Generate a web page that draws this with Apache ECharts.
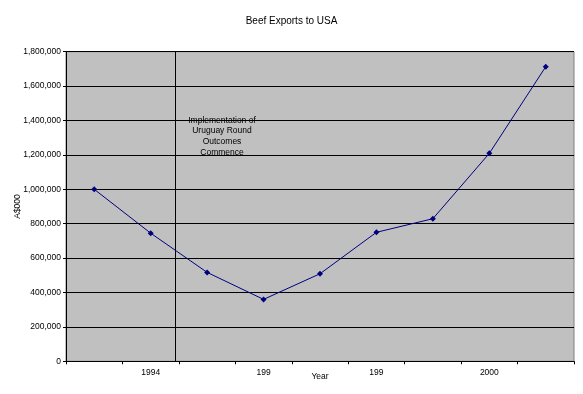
<!DOCTYPE html>
<html>
<head>
<meta charset="utf-8">
<script src="https://cdn.jsdelivr.net/npm/echarts@6/dist/echarts.min.js"></script>
<style>
html,body{margin:0;padding:0;background:#fff;}
#chart{width:583px;height:394px;}
</style>
</head>
<body>
<div id="chart"></div>
<script>
const years = ['1993','1994','1995','1996','1997','1998','1999','2000','2001'];
const tickLabels = ['', '1994', '', '199', '', '199', '', '2000', ''];
const exports = [1000000, 745000, 517000, 360000, 509000, 750000, 829000, 1209000, 1713000];
const yTicks = { min: 0, max: 1800000, interval: 200000 };
const eventPosition = 1.93; // category-boundary units (0..9)
const eventText = ['Implementation of', 'Uruguay Round', 'Outcomes', 'Commence'];

const FONT = '"Liberation Sans", Arial, sans-serif';
const chart = echarts.init(document.getElementById('chart'), null, {renderer: 'canvas'});
chart.setOption({
  animation: false,
  backgroundColor: '#ffffff',
  title: {
    text: 'Beef Exports to USA',
    left: 'center',
    top: 11,
    textStyle: {fontFamily: FONT, fontSize: 10, fontWeight: 'normal', color: '#000'}
  },
  grid: {left: 66, right: 9, top: 51.7, bottom: 32.7, containLabel: false, outerBoundsMode: 'none',
         show: true, backgroundColor: '#c0c0c0', borderColor: '#808080', borderWidth: 1},
  xAxis: [{
    type: 'category',
    data: years,
    boundaryGap: true,
    name: 'Year',
    nameLocation: 'middle',
    nameGap: 11,
    nameMoveOverlap: false,
    nameTextStyle: {fontFamily: FONT, fontSize: 8.5, color: '#000'},
    axisLine: {lineStyle: {color: '#000', width: 1}},
    axisTick: {show: true, length: 3, inside: false, alignWithLabel: false, interval: 0, lineStyle: {color: '#000'}},
    axisLabel: {interval: 0, fontFamily: FONT, fontSize: 8.5, color: '#000', margin: 7,
                formatter: (v, i) => tickLabels[i]},
    splitLine: {show: false}
  }, {
    type: 'value',
    min: 0, max: years.length,
    show: false
  }],
  yAxis: {
    type: 'value',
    min: yTicks.min, max: yTicks.max, interval: yTicks.interval,
    name: 'A$000',
    nameLocation: 'middle',
    nameGap: 44,
    nameRotate: 90,
    nameMoveOverlap: false,
    nameTextStyle: {fontFamily: FONT, fontSize: 8.5, color: '#000'},
    axisLine: {show: true, lineStyle: {color: '#000', width: 1}},
    axisTick: {show: true, length: 3, lineStyle: {color: '#000'}},
    axisLabel: {fontFamily: FONT, fontSize: 8.5, color: '#000', margin: 5,
                formatter: v => v.toLocaleString('en-US')},
    splitLine: {show: true, lineStyle: {color: '#000', width: 1}}
  },
  graphic: [{
    type: 'text',
    x: 222,
    y: 115,
    style: {
      text: eventText.join('\n'),
      align: 'center',
      verticalAlign: 'top',
      fontFamily: FONT, fontSize: 8.5, lineHeight: 10.7, fill: '#000'
    },
    z: 50
  }],
  series: [{
    type: 'line',
    data: exports,
    symbol: 'diamond',
    symbolSize: 6,
    itemStyle: {color: '#000080'},
    lineStyle: {color: '#000080', width: 1},
    z: 10
  }, {
    type: 'line',
    xAxisIndex: 1,
    data: [],
    symbol: 'none',
    markLine: {
      silent: true,
      symbol: ['none', 'none'],
      label: {show: false},
      lineStyle: {color: '#000', width: 1, type: 'solid'},
      data: [{xAxis: eventPosition}]
    }
  }]
});
</script>
</body>
</html>
